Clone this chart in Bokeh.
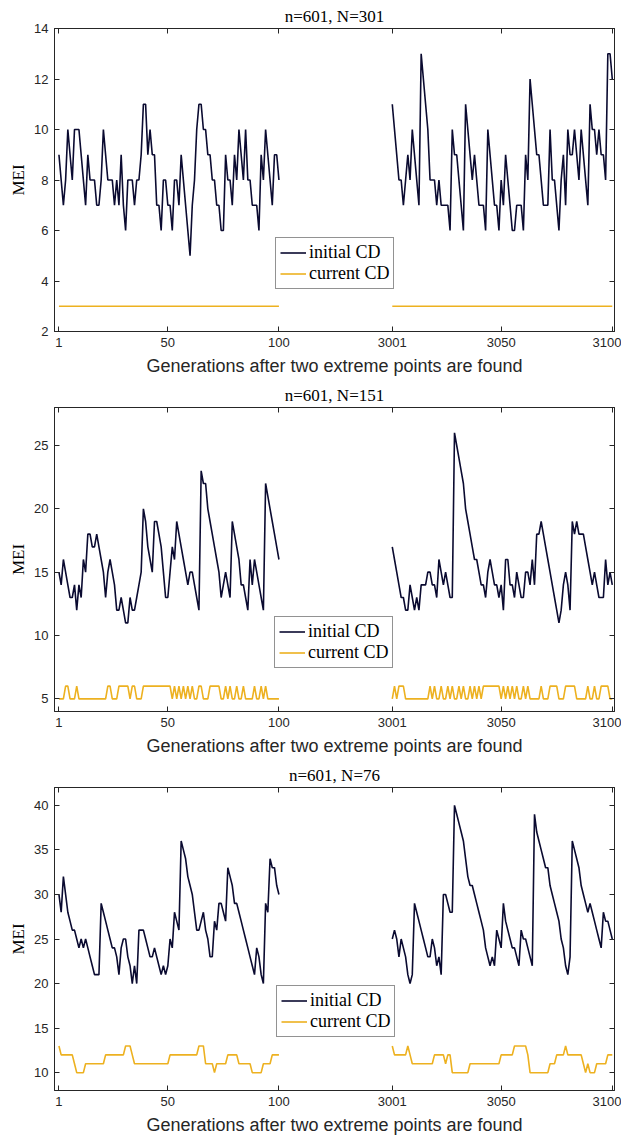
from bokeh.plotting import figure
from bokeh.layouts import column
from bokeh.models import FixedTicker, LinearAxis, Legend, LegendItem, Range1d
from bokeh.embed import file_html
from bokeh.resources import INLINE

# ---------------- data ----------------
gens_first = list(range(1, 101))
gens_last = list(range(3001, 3101))
tick_gens = [1, 50, 100, 3001, 3050, 3100]
tick_labels = ["1", "50", "100", "3001", "3050", "3100"]
GAP_SHIFT = 2850  # generation 3001 is drawn right after a gap, at axis position 151

titles = ["n=601, N=301", "n=601, N=151", "n=601, N=76"]

p1_init_first = [9, 8, 7, 8, 10, 9, 8, 10, 10, 10, 9, 8, 7, 9, 8, 8, 8, 7, 7, 8,
                 10, 9, 8, 8, 8, 7, 8, 7, 9, 7, 6, 8, 8, 8, 7, 8, 8, 9, 11, 11,
                 9, 10, 9, 9, 7, 7, 6, 8, 8, 7, 7, 6, 8, 8, 7, 9, 8, 7, 6, 5,
                 7, 8, 10, 11, 11, 10, 10, 9, 9, 8, 8, 7, 7, 6, 6, 9, 8, 8, 7, 9,
                 8, 10, 9, 8, 10, 8, 8, 7, 7, 7, 6, 9, 8, 10, 9, 8, 7, 9, 9, 8]
p1_init_last = [11, 10, 9, 8, 8, 7, 8, 9, 8, 10, 9, 8, 7, 13, 12, 11, 10, 8, 8, 8,
                7, 8, 7, 7, 7, 7, 6, 10, 9, 9, 8, 7, 6, 11, 10, 9, 8, 9, 8, 7,
                7, 7, 6, 10, 9, 8, 7, 7, 6, 8, 7, 9, 8, 7, 6, 6, 7, 7, 7, 6,
                9, 8, 12, 11, 10, 9, 9, 8, 7, 7, 7, 10, 8, 8, 7, 6, 8, 9, 7, 10,
                9, 9, 10, 9, 8, 10, 9, 8, 7, 11, 10, 10, 9, 10, 9, 9, 8, 13, 13, 12]
p1_cur_first = [3] * 100
p1_cur_last = [3] * 100

p2_init_first = [15, 14, 16, 15, 14, 13, 13, 14, 12, 14, 13, 16, 15, 18, 18, 17, 17, 18, 17, 16,
                 15, 13, 15, 16, 15, 14, 12, 12, 13, 12, 11, 11, 13, 12, 12, 13, 14, 15, 20, 19,
                 17, 16, 15, 19, 19, 18, 17, 15, 13, 13, 15, 17, 16, 19, 18, 17, 16, 15, 14, 15,
                 15, 14, 13, 12, 23, 22, 22, 20, 19, 18, 17, 16, 15, 13, 14, 15, 14, 13, 19, 18,
                 17, 16, 14, 14, 13, 12, 16, 14, 16, 15, 14, 13, 12, 22, 21, 20, 19, 18, 17, 16]
p2_init_last = [17, 16, 15, 14, 13, 13, 12, 12, 14, 13, 12, 13, 12, 14, 14, 14, 15, 15, 14, 14,
                13, 16, 15, 14, 15, 14, 13, 13, 26, 25, 24, 23, 22, 20, 19, 18, 17, 16, 16, 15,
                14, 14, 13, 15, 16, 15, 14, 14, 13, 14, 12, 16, 16, 14, 14, 13, 15, 14, 13, 13,
                15, 15, 14, 16, 14, 18, 18, 19, 18, 17, 16, 15, 14, 13, 12, 11, 12, 14, 15, 14,
                12, 19, 18, 19, 18, 18, 18, 17, 16, 15, 14, 15, 14, 13, 13, 13, 16, 14, 15, 14]
p2_cur_first = [5, 5, 5, 6, 6, 5, 5, 5, 6, 5, 5, 5, 5, 5, 5, 5, 5, 5, 5, 5,
                5, 5, 6, 6, 5, 5, 5, 6, 6, 6, 6, 6, 5, 6, 6, 5, 5, 5, 6, 6,
                6, 6, 6, 6, 6, 6, 6, 6, 6, 6, 6, 5, 6, 5, 6, 5, 6, 5, 6, 5,
                6, 5, 5, 6, 6, 5, 5, 5, 6, 6, 6, 6, 6, 5, 5, 6, 5, 6, 5, 5,
                6, 5, 5, 6, 5, 5, 5, 5, 6, 5, 5, 6, 5, 6, 5, 5, 5, 5, 5, 5]
p2_cur_last = [5, 6, 5, 6, 6, 6, 5, 5, 5, 5, 5, 5, 5, 5, 5, 5, 5, 6, 5, 6,
               5, 5, 6, 5, 5, 6, 5, 6, 5, 5, 6, 5, 6, 5, 5, 6, 5, 6, 5, 6,
               5, 6, 6, 6, 6, 6, 6, 6, 6, 5, 6, 5, 6, 5, 6, 5, 6, 5, 5, 6,
               5, 6, 5, 5, 5, 5, 5, 6, 5, 5, 5, 6, 6, 6, 6, 5, 5, 5, 6, 6,
               6, 6, 6, 5, 5, 5, 5, 5, 6, 5, 5, 6, 5, 5, 6, 6, 6, 6, 5, 5]

p3_init_first = [30, 28, 32, 30, 28, 27, 26, 26, 25, 24, 25, 24, 25, 24, 23, 22, 21, 21, 21, 29,
                 28, 27, 26, 25, 24, 24, 23, 21, 24, 25, 25, 23, 22, 20, 22, 20, 26, 26, 26, 25,
                 24, 23, 23, 24, 23, 22, 21, 22, 21, 22, 25, 24, 28, 27, 26, 36, 35, 34, 32, 31,
                 30, 28, 26, 26, 27, 28, 26, 25, 23, 23, 27, 26, 29, 29, 28, 27, 33, 32, 31, 29,
                 29, 28, 27, 26, 25, 24, 23, 22, 21, 24, 23, 21, 20, 29, 28, 34, 33, 33, 31, 30]
p3_init_last = [25, 26, 25, 23, 25, 24, 23, 21, 20, 21, 29, 28, 27, 26, 25, 24, 23, 23, 25, 24,
                22, 23, 21, 30, 30, 29, 28, 28, 40, 39, 38, 37, 36, 34, 32, 31, 31, 30, 29, 28,
                27, 26, 24, 23, 22, 23, 22, 26, 25, 24, 29, 27, 26, 25, 24, 24, 23, 22, 26, 25,
                25, 24, 23, 22, 39, 37, 36, 35, 34, 33, 33, 31, 30, 29, 28, 27, 25, 24, 22, 21,
                23, 36, 35, 34, 33, 31, 30, 29, 28, 29, 28, 27, 26, 25, 24, 28, 27, 27, 26, 25]
p3_cur_first = [13, 12, 12, 12, 12, 12, 12, 11, 10, 10, 10, 10, 11, 11, 11, 11, 11, 11, 11, 11,
                11, 12, 12, 12, 12, 12, 12, 12, 12, 12, 13, 13, 13, 12, 11, 11, 11, 11, 11, 11,
                11, 11, 11, 11, 11, 11, 11, 11, 11, 11, 12, 12, 12, 12, 12, 12, 12, 12, 12, 12,
                12, 12, 12, 13, 13, 13, 11, 11, 11, 11, 10, 11, 11, 11, 11, 11, 12, 12, 12, 12,
                12, 11, 11, 11, 11, 11, 11, 10, 10, 10, 10, 10, 11, 11, 11, 11, 12, 12, 12, 12]
p3_cur_last = [13, 12, 12, 12, 12, 12, 12, 13, 12, 11, 11, 11, 11, 11, 11, 11, 11, 11, 11, 12,
               12, 12, 12, 12, 11, 12, 12, 10, 10, 10, 10, 10, 10, 10, 10, 11, 11, 11, 11, 11,
               11, 11, 11, 11, 11, 11, 11, 11, 11, 12, 12, 12, 12, 12, 12, 13, 13, 13, 13, 13,
               13, 12, 10, 10, 10, 10, 10, 10, 10, 10, 10, 11, 11, 11, 12, 12, 12, 12, 13, 12,
               12, 12, 12, 12, 12, 12, 11, 10, 11, 10, 10, 10, 11, 11, 11, 11, 11, 12, 12, 12]

y_limits = [(2, 14), (4, 28), (8, 42)]
y_ticks = [[2, 4, 6, 8, 10, 12, 14], [5, 10, 15, 20, 25], [10, 15, 20, 25, 30, 35, 40]]
legend_pos = [(221, 42), (220, 43), (222, 53)]

series = [
    (p1_init_first, p1_init_last, p1_cur_first, p1_cur_last),
    (p2_init_first, p2_init_last, p2_cur_first, p2_cur_last),
    (p3_init_first, p3_init_last, p3_cur_first, p3_cur_last),
]

# ---------------- styling / layout ----------------
DARK = "#0a0a30"
ORANGE = "#EDB120"
AXIS = "#262626"
SANS = "Liberation Sans"
SERIF = "Liberation Serif"
frame_h = [303, 304, 303]
border_top = [28, 27, 27]
border_bottom = [49, 49, 47]


def pos(g):
    return g if g <= 100 else g - GAP_SHIFT


x_first = [pos(g) for g in gens_first]
x_last = [pos(g) for g in gens_last]
tick_pos = [pos(g) for g in tick_gens]


def style_axis(ax, show_labels):
    ax.axis_line_color = AXIS
    ax.major_tick_line_color = AXIS
    ax.major_tick_in = 5
    ax.major_tick_out = 0
    ax.minor_tick_line_color = None
    ax.major_label_text_color = AXIS
    ax.major_label_text_font = SANS
    if show_labels:
        ax.major_label_text_font_size = "13px"
    else:
        ax.major_label_text_font_size = "0px"
        ax.major_label_standoff = 0


def make_panel(idx):
    init_a, init_b, cur_a, cur_b = series[idx]
    p = figure(frame_width=560, frame_height=frame_h[idx],
               x_range=Range1d(-1, 251), y_range=Range1d(*y_limits[idx]),
               output_backend="svg", toolbar_location=None,
               min_border_left=54, min_border_right=7,
               min_border_top=border_top[idx], min_border_bottom=border_bottom[idx])
    p.background_fill_color = "white"
    p.border_fill_color = "white"
    p.outline_line_color = AXIS
    p.outline_line_width = 1
    p.xgrid.visible = False
    p.ygrid.visible = False

    p.title.text = titles[idx]
    p.title.text_font = SERIF
    p.title.text_font_size = "17px"
    p.title.text_font_style = "normal"
    p.title.text_color = "black"
    p.title.align = "center"
    p.title.standoff = 5

    xt = FixedTicker(ticks=tick_pos)
    yt = FixedTicker(ticks=y_ticks[idx])
    overrides = {tp: lab for tp, lab in zip(tick_pos, tick_labels)}

    xa = p.xaxis[0]
    xa.ticker = xt
    xa.major_label_overrides = overrides
    style_axis(xa, True)
    xa.major_label_standoff = 6
    xa.axis_label = "Generations after two extreme points are found"
    xa.axis_label_text_font = SANS
    xa.axis_label_text_font_size = "18px"
    xa.axis_label_text_font_style = "normal"
    xa.axis_label_text_color = AXIS
    xa.axis_label_standoff = 6

    ya = p.yaxis[0]
    ya.ticker = yt
    style_axis(ya, True)
    ya.major_label_standoff = 6
    ya.axis_label = "MEI"
    ya.axis_label_text_font = SERIF
    ya.axis_label_text_font_size = "17px"
    ya.axis_label_text_font_style = "normal"
    ya.axis_label_text_color = "black"
    ya.axis_label_standoff = 3

    top = LinearAxis(ticker=xt)
    style_axis(top, False)
    top.major_label_overrides = {tp: "" for tp in tick_pos}
    p.add_layout(top, "above")
    right = LinearAxis(ticker=yt)
    style_axis(right, False)
    right.major_label_overrides = {t: "" for t in y_ticks[idx]}
    p.add_layout(right, "right")

    r_init = p.line(x_first, init_a, line_color=DARK, line_width=1.6)
    p.line(x_last, init_b, line_color=DARK, line_width=1.6)
    r_cur = p.line(x_first, cur_a, line_color=ORANGE, line_width=1.6)
    p.line(x_last, cur_b, line_color=ORANGE, line_width=1.6)

    leg = Legend(items=[LegendItem(label="initial CD", renderers=[r_init]),
                        LegendItem(label="current CD", renderers=[r_cur])],
                 location=legend_pos[idx])
    leg.label_text_font = SERIF
    leg.label_text_font_size = "18px"
    leg.label_text_color = "black"
    leg.padding = 4
    leg.spacing = 0
    leg.margin = 0
    leg.glyph_width = 26
    leg.glyph_height = 19
    leg.label_height = 19
    leg.label_standoff = 3
    leg.border_line_color = AXIS
    leg.border_line_width = 1
    leg.background_fill_alpha = 1
    p.add_layout(leg, "center")
    return p


panels = [make_panel(0), make_panel(1), make_panel(2)]
layout = column(*panels, spacing=0)

open("out.html", "w").write(file_html(layout, INLINE))
